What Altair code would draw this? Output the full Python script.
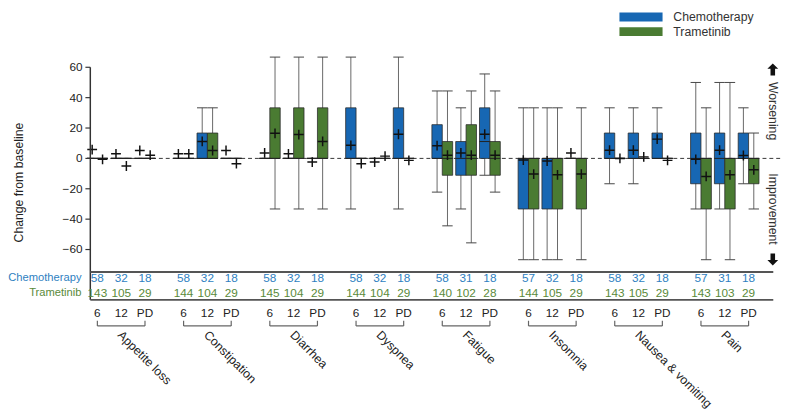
import altair as alt
import pandas as pd

# ---------------- data ----------------
groups = ["Appetite loss", "Constipation", "Diarrhea", "Dyspnea",
          "Fatigue", "Insomnia", "Nausea & vomiting", "Pain"]
timepoints = ["6", "12", "PD"]
series = ["Chemotherapy", "Trametinib"]
y_ticks = [-60, -40, -20, 0, 20, 40, 60]

# order: for each group -> 6, 12, PD
chemo_lo = [0, 0, 0,  0, 0, 0,  0, 0, 0,  -33.3, 0, -33.3,  -22.2, -33.3, -11.1,
            -66.7, -66.7, 0,  -16.7, -16.7, 0,  -33.3, -33.3, -16.7]
chemo_q1 = [0, 0, 0,  0, 0, 0,  0, 0, 0,  0, 0, 0,  0, -11.1, 0,
            -33.3, -33.3, 0,  0, 0, 0,  -16.7, -16.7, 0]
chemo_med = [0, 0, 0,  0, 0, 0,  0, 0, 0,  0, 0, 0,  0, 0, 11.1,
             0, 0, 0,  0, 0, 0,  0, 0, 0]
chemo_q3 = [0, 0, 0,  0, 16.7, 0,  0, 0, 0,  33.3, 0, 33.3,  22.2, 11.1, 33.3,
            0, 0, 0,  16.7, 16.7, 16.7,  16.7, 16.7, 16.7]
chemo_hi = [0, 0, 0,  0, 33.3, 0,  0, 0, 0,  66.7, 0, 66.7,  44.4, 33.3, 55.6,
            33.3, 33.3, 0,  33.3, 33.3, 33.3,  50, 50, 33.3]
chemo_mean = [5.8, 3.0, 5.2,  3.0, 11.2, 5.2,  3.6, 3.0, -2.4,  8.6, -2.4, 15.9,
              8.4, 3.6, 15.9,  -1.1, -1.7, 3.6,  5.4, 5.4, 12.7,  -0.6, 5.4, 1.9]

tram_lo = [0, 0, 0,  0, 0, 0,  -33.3, -33.3, -33.3,  0, 0, 0,  -44.4, -55.6, -22.2,
           -66.7, -66.7, -66.7,  0, 0, 0,  -66.7, -66.7, -33.3]
tram_q1 = [0, 0, 0,  0, 0, 0,  0, 0, 0,  0, 0, 0,  -11.1, -11.1, -11.1,
           -33.3, -33.3, -33.3,  0, 0, 0,  -33.3, -33.3, -16.7]
tram_med = [0, 0, 0,  0, 0, 0,  0, 0, 0,  0, 0, 0,  0, 0, 0,
            0, 0, 0,  0, 0, 0,  0, 0, 0]
tram_q3 = [0, 0, 0,  0, 16.7, 0,  33.3, 33.3, 33.3,  0, 0, 0,  11.1, 22.2, 11.1,
           0, 0, 0,  0, 0, 0,  0, 0, 0]
tram_hi = [0, 0, 0,  0, 33.3, 0,  66.7, 66.7, 66.7,  0, 0, 0,  44.4, 44.4, 44.4,
           33.3, 33.3, 33.3,  0, 0, 0,  33.3, 50, 16.7]
tram_mean = [-0.6, -5.0, 2.1,  3.0, 5.2, -3.5,  16.5, 15.7, 11.2,  -3.5, 1.5, -1.3,
             2.1, 2.1, 2.1,  -10.3, -10.8, -10.3,  0.0, 1.0, -1.3,  -11.9, -10.8, -7.5]

chemo_n = [58, 32, 18,  58, 32, 18,  58, 32, 18,  58, 32, 18,
           58, 31, 18,  57, 32, 18,  58, 32, 18,  57, 31, 18]
tram_n = [143, 105, 29,  144, 104, 29,  145, 104, 29,  144, 104, 29,
          140, 102, 28,  144, 105, 29,  143, 105, 29,  143, 103, 29]

# ---------------- layout / style ----------------
W, H = 698, 408
GROUP_STEP, SLOT, FIRST_MID = 88.0, 24.3, 31.5
PAIR_OFF, HALF = 5.3, 5.3
PX_PER_UNIT, ZERO_PX = 1.55, 149.3
Y_MAX = ZERO_PX / PX_PER_UNIT
Y_MIN = (ZERO_PX - H) / PX_PER_UNIT

BLUE, GREEN = "#1767B3", "#4A7B32"
BLUE_T, GREEN_T = "#2F7FC1", "#5A8A3A"
FONT = "Liberation Sans"

xscale = alt.Scale(domain=[0, W], nice=False, zero=False)
yscale = alt.Scale(domain=[Y_MIN, Y_MAX], nice=False, zero=False)

rows, pairs = [], []
stats = {
    "Chemotherapy": (chemo_lo, chemo_q1, chemo_med, chemo_q3, chemo_hi, chemo_mean),
    "Trametinib": (tram_lo, tram_q1, tram_med, tram_q3, tram_hi, tram_mean),
}
for g, grp in enumerate(groups):
    for t, tp in enumerate(timepoints):
        i = g * 3 + t
        mid = FIRST_MID + g * GROUP_STEP + (t - 1) * SLOT
        pairs.append(dict(group=grp, tp=tp, pos=mid, nc=str(chemo_n[i]), nt=str(tram_n[i])))
        for s, sname in enumerate(series):
            lo, q1, med, q3, hi, mn = (a[i] for a in stats[sname])
            c = mid + (PAIR_OFF if s else -PAIR_OFF)
            rows.append(dict(group=grp, tp=tp, series=sname, pos=c, left=c - HALF, right=c + HALF,
                             lo=lo, q1=q1, med=med, q3=q3, hi=hi, mean=mn))
df = pd.DataFrame(rows)
pdf = pd.DataFrame(pairs)
gdf = pd.DataFrame([dict(group=grp,
                         p6=FIRST_MID + g * GROUP_STEP - SLOT,
                         p12=FIRST_MID + g * GROUP_STEP,
                         pPD=FIRST_MID + g * GROUP_STEP + SLOT) for g, grp in enumerate(groups)])
tdf = pd.DataFrame({"v": y_ticks,
                    "lab": [("\u2212" + str(abs(v))) if v < 0 else str(v) for v in y_ticks]})

X = lambda f: alt.X(f"{f}:Q", scale=xscale, axis=None)
X2 = lambda f: alt.X2(f"{f}:Q")
Yn = lambda f: alt.Y(f"{f}:Q", scale=yscale, axis=None)

color = alt.Color("series:N", scale=alt.Scale(domain=series, range=[BLUE, GREEN]), legend=None)

# manual y axis (ticks, labels, title)
ticks = alt.Chart(tdf).mark_rule(color="#333", strokeWidth=1.2).encode(
    x=alt.value(-5), x2=alt.value(0), y=Yn("v"))
tick_labels = alt.Chart(tdf).mark_text(fontSize=12, font=FONT, color="#222",
                                       align="right", baseline="middle").encode(
    x=alt.value(-8), y=Yn("v"), text="lab:N")
one = pd.DataFrame({"v": [60]})
y_title = alt.Chart(one).mark_text(text="Change from baseline", angle=270, fontSize=12.5,
                                   font=FONT, color="#222", align="center",
                                   baseline="middle").encode(x=alt.value(-73), y=alt.value(174))

zero_line = alt.Chart(pd.DataFrame({"v": [0]})).mark_rule(
    color="#333", strokeWidth=1, strokeDash=[4, 3]).encode(
    x=alt.value(0), x2=alt.value(W + 6), y=Yn("v"))

whisk = alt.Chart(df).mark_rule(color="#666", strokeWidth=1).encode(
    x=X("pos"), y=Yn("lo"), y2=alt.Y2("hi:Q"))
cap_hi = alt.Chart(df).mark_rule(color="#444", strokeWidth=1).encode(
    x=X("left"), x2=X2("right"), y=Yn("hi"))
cap_lo = alt.Chart(df).mark_rule(color="#444", strokeWidth=1).encode(
    x=X("left"), x2=X2("right"), y=Yn("lo"))
boxes = alt.Chart(df).mark_rect(stroke="#2a2a2a", strokeWidth=0.8).encode(
    x=X("left"), x2=X2("right"), y=Yn("q1"), y2=alt.Y2("q3:Q"), color=color)
medians = alt.Chart(df).mark_rule(color="#222", strokeWidth=1).encode(
    x=X("left"), x2=X2("right"), y=Yn("med"))
means = alt.Chart(df).mark_point(
    shape="M-1,0L1,0M0,-1L0,1", size=100, filled=False, color="#111",
    strokeWidth=1.5, opacity=1).encode(x=X("pos"), y=Yn("mean"))

# axis line + n table frame
axis_line = alt.Chart(one).mark_rule(color="#333", strokeWidth=1.5).encode(
    x=alt.value(0), y=Yn("v"), y2=alt.value(293.7))
table_top = alt.Chart(one).mark_rule(color="#555", strokeWidth=2).encode(
    x=alt.value(0), x2=alt.value(697), y=alt.value(265.3))
table_bot = alt.Chart(one).mark_rule(color="#555", strokeWidth=2).encode(
    x=alt.value(0), x2=alt.value(697), y=alt.value(293.7))

n_chemo = alt.Chart(pdf).mark_text(fontSize=12, font=FONT, color=BLUE_T, baseline="middle").encode(
    x=X("pos"), y=alt.value(271), text="nc:N")
n_tram = alt.Chart(pdf).mark_text(fontSize=12, font=FONT, color=GREEN_T, baseline="middle").encode(
    x=X("pos"), y=alt.value(287), text="nt:N")
row_lab = [
    alt.Chart(one).mark_text(text=series[0], fontSize=11.4, font=FONT, color=BLUE_T,
                             align="right", baseline="middle").encode(x=alt.value(-9), y=alt.value(271)),
    alt.Chart(one).mark_text(text=series[1], fontSize=11.4, font=FONT, color=GREEN_T,
                             align="right", baseline="middle").encode(x=alt.value(-9), y=alt.value(287)),
]
tp_lab = alt.Chart(pdf).mark_text(fontSize=12, font=FONT, color="#222", baseline="middle").encode(
    x=X("pos"), y=alt.value(307), text="tp:N")

br_h = alt.Chart(gdf).mark_rule(color="#666", strokeWidth=1.2).encode(
    x=X("p6"), x2=X2("pPD"), y=alt.value(320.3))
br_l = alt.Chart(gdf).mark_rule(color="#666", strokeWidth=1.2).encode(
    x=X("p6"), y=alt.value(315), y2=alt.value(320.3))
br_r = alt.Chart(gdf).mark_rule(color="#666", strokeWidth=1.2).encode(
    x=X("pPD"), y=alt.value(315), y2=alt.value(320.3))
cat_lab = alt.Chart(gdf).mark_text(fontSize=12.5, font=FONT, color="#222", angle=45,
                                   align="left", baseline="middle", dx=-2).encode(
    x=X("p12"), y=alt.value(329), text="group:N")

# legend
leg = []
for i, (s, c) in enumerate(zip(series, [BLUE, GREEN])):
    leg.append(alt.Chart(one).mark_rect(color=c).encode(
        x=alt.value(540), x2=alt.value(584), y=alt.value(0.5 + 15 * i), y2=alt.value(9.5 + 15 * i)))
    leg.append(alt.Chart(one).mark_text(text=s, fontSize=12.5, font=FONT, color="#333",
                                        align="left", baseline="middle").encode(
        x=alt.value(595), y=alt.value(5 + 15 * i)))

# worsening / improvement
up = "M0,-1L0.9,-0.1L0.38,-0.1L0.38,1L-0.38,1L-0.38,-0.1L-0.9,-0.1Z"
down = "M0,1L0.9,0.1L0.38,0.1L0.38,-1L-0.38,-1L-0.38,0.1L-0.9,0.1Z"
side = [
    alt.Chart(one).mark_point(shape=up, size=150, filled=True, color="#111", opacity=1).encode(
        x=alt.value(696.5), y=alt.value(58.5)),
    alt.Chart(one).mark_point(shape=down, size=150, filled=True, color="#111", opacity=1).encode(
        x=alt.value(696.5), y=alt.value(252.5)),
    alt.Chart(one).mark_text(text="Worsening", angle=90, fontSize=12.5, font=FONT, color="#333",
                             align="center", baseline="middle").encode(x=alt.value(696.5), y=alt.value(101)),
    alt.Chart(one).mark_text(text="Improvement", angle=90, fontSize=12.5, font=FONT, color="#333",
                             align="center", baseline="middle").encode(x=alt.value(696.5), y=alt.value(201)),
]

chart = alt.layer(
    zero_line, whisk, cap_hi, cap_lo, boxes, medians, means,
    axis_line, ticks, tick_labels, y_title,
    table_top, table_bot, n_chemo, n_tram, *row_lab, tp_lab,
    br_h, br_l, br_r, cat_lab, *leg, *side
).properties(
    width=W, height=H,
    autosize=alt.AutoSizeParams(type="none"),
    padding={"left": 84, "top": 0, "right": 13, "bottom": 0},
).configure(font=FONT).configure_view(stroke=None)

chart.save("out.html", embed_options={"renderer": "svg", "actions": False})
